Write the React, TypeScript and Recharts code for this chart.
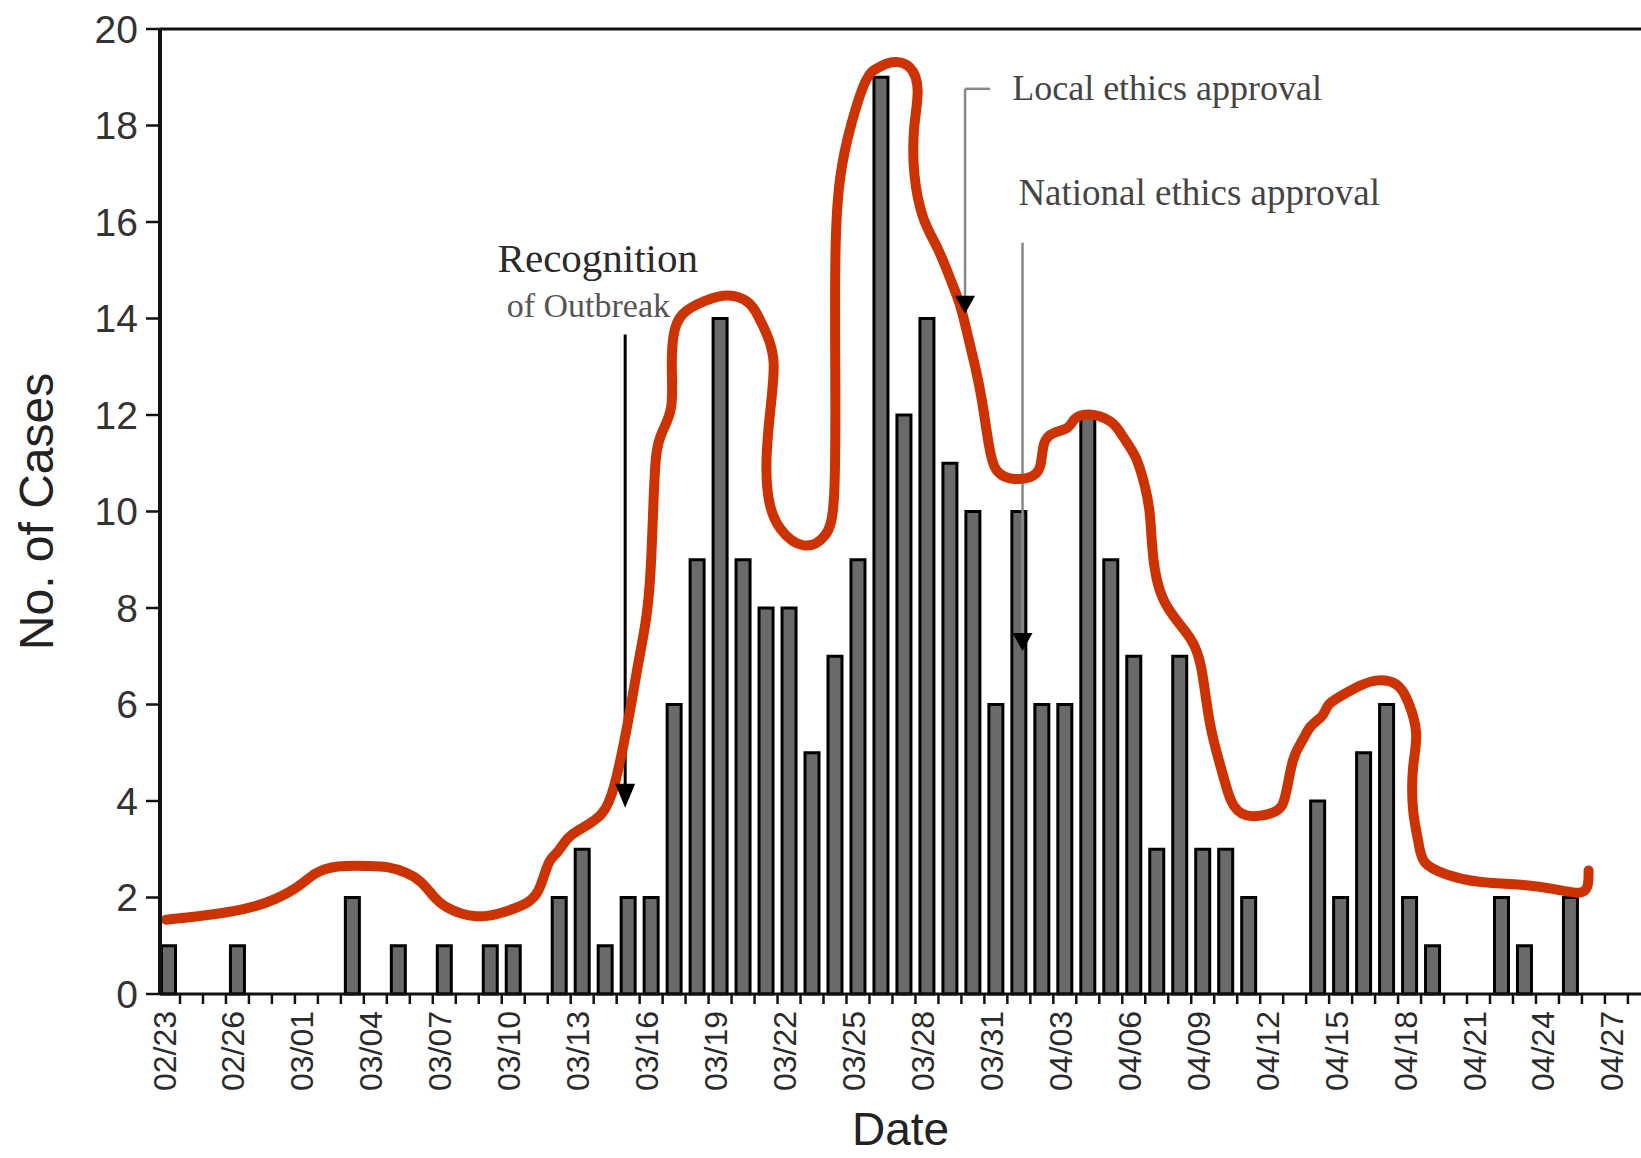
import React from 'react';
import { ComposedChart, Bar, Line, XAxis, YAxis, ReferenceLine, ReferenceDot } from 'recharts';

// daily new cases, one entry per day from 02/23 to 04/27
const caseCounts = [
  1, 0, 0, 1, 0, 0, 0, 0, 2, 0, 1, 0, 1, 0, 1, 1, 0, 2, 3, 1, 2, 2,
  6, 9, 14, 9, 8, 8, 5, 7, 9, 19, 12, 14, 11, 10, 6, 10, 6, 6, 12, 9,
  7, 3, 7, 3, 3, 2, 0, 0, 4, 2, 5, 6, 2, 1, 0, 0, 2, 1, 0, 2, 0, 0,
];

// a date label on every third day
const dateLabels = [
  '02/23', '02/26', '03/01', '03/04', '03/07', '03/10', '03/13', '03/16',
  '03/19', '03/22', '03/25', '03/28', '03/31', '04/03', '04/06', '04/09',
  '04/12', '04/15', '04/18', '04/21', '04/24', '04/27',
];
const labelStep = 3;

const yTicks = [0, 2, 4, 6, 8, 10, 12, 14, 16, 18, 20];

// hand-drawn trend curve (day index, cases)
const trendDays = [
  -0.11, 2.17, 3.71, 4.62, 5.72, 6.35, 7.26, 8.86, 9.45, 10.41, 11.0, 11.5,
  11.95, 13.41, 14.73, 15.69, 16.14, 16.55, 16.91, 17.37, 18.14, 18.92, 19.37,
  20.01, 20.46, 20.74, 20.97, 21.1, 21.19, 21.47, 21.97, 21.88, 21.92, 22.24,
  23.33, 24.38, 25.29, 25.61, 26.06, 26.43, 26.2, 25.97, 26.06, 26.52, 27.66,
  28.66, 29.02, 29.02, 28.98, 29.16, 29.7, 30.39, 30.84, 31.43, 32.34, 32.71,
  32.39, 32.39, 32.8, 33.48, 34.07, 34.48, 34.76, 35.12, 35.39, 35.71, 35.94,
  36.58, 37.62, 37.99, 38.03, 38.49, 39.22, 39.35, 39.95, 41.13, 41.49, 42.13,
  42.45, 42.72, 42.81, 43.18, 43.77, 44.5, 44.95, 45.27, 45.86, 46.18, 46.77,
  48.27, 48.59, 48.91, 49.37, 49.64, 50.28, 50.41, 50.87, 51.92, 52.6, 53.51,
  53.92, 54.42, 54.1, 54.1, 54.42, 54.51, 55.56, 56.92, 58.93, 60.43, 61.47,
  61.79, 61.79,
];
const trendCases = [
  1.54, 1.65, 1.8, 1.95, 2.23, 2.52, 2.67, 2.65, 2.65, 2.52, 2.34, 2.04,
  1.8, 1.54, 1.71, 1.89, 2.1, 2.82, 2.89, 3.28, 3.47, 3.71, 4.16,
  5.64, 6.94, 7.59, 8.46, 10.2, 11.28, 11.67, 12.1, 12.93, 13.67, 14.12,
  14.38, 14.53, 14.36, 14.1, 13.67, 13.15, 12.19, 11.08, 10.2, 9.61, 9.18,
  9.46, 9.98, 12.56, 15.49, 16.96, 18.07, 19.09, 19.18, 19.35, 19.28, 18.76,
  17.98, 16.96, 16.01, 15.49, 14.75, 14.27, 13.67, 12.97, 12.36, 11.28, 10.82,
  10.65, 10.69, 10.89, 11.48, 11.65, 11.71, 11.93, 12.06, 11.89, 11.56, 11.15,
  10.59, 10.09, 8.94, 8.2, 7.79, 7.38, 6.94, 5.53, 4.6, 3.97, 3.62,
  3.75, 3.97, 4.97, 5.25, 5.57, 5.75, 6.01, 6.14, 6.42, 6.53, 6.46,
  6.12, 5.4, 4.75, 3.75, 3.12, 2.69, 2.47, 2.3, 2.28, 2.17, 2.06,
  2.19, 2.56,
];

const barRows = caseCounts.map((cases, day) => ({ day, cases }));
const trendRows = trendDays.map((day, i) => ({ day, trend: trendCases[i] }));

// tick marks sit between days, labels on every third day
const boundaryTicks = caseCounts.map((_, i) => i + 0.5);
const labelTicks = dateLabels.map((_, i) => i * labelStep);
const xTicks = [...boundaryTicks, ...labelTicks].sort((a, b) => a - b);

const SANS = '"Liberation Sans", Arial, Helvetica, sans-serif';
const SERIF = '"Liberation Serif", "Times New Roman", serif';
const INK = '#111';
const BAR_W = 14;

const DateTick = (props: any) => {
  const { x, y, payload } = props;
  const v = payload.value as number;
  if (!Number.isInteger(v)) {
    return <line x1={x} x2={x} y1={y} y2={y + 10} stroke={INK} strokeWidth={2.5} />;
  }
  const tx = x - 4;
  const ty = y + 17;
  return (
    <text
      x={tx}
      y={ty}
      transform={`rotate(-90, ${tx}, ${ty})`}
      textAnchor="end"
      dominantBaseline="central"
      fontFamily={SANS}
      fontSize={32}
      fill="#2a2a2a"
    >
      {dateLabels[v / labelStep]}
    </text>
  );
};

// fixed-width bar centred on its day, whatever band size the numeric axis gives
const DayBar = (p: any) => {
  if (!p.height || p.height <= 0) return null;
  const cx = p.x + p.width / 2;
  return (
    <rect
      x={cx - BAR_W / 2}
      y={p.y}
      width={BAR_W}
      height={p.height}
      fill="#6a6a6a"
      stroke="#000"
      strokeWidth={3}
    />
  );
};

const arrowHead = (w: number, h: number) => (p: any) => (
  <polygon
    points={`${p.cx - w / 2},${p.cy - h} ${p.cx + w / 2},${p.cy - h} ${p.cx},${p.cy}`}
    fill="#000"
  />
);

const note = (text: string, size: number, fill: string, anchor: 'start' | 'middle') => (p: any) => (
  <text x={p.cx} y={p.cy} textAnchor={anchor} fontFamily={SERIF} fontSize={size} fill={fill}>
    {text}
  </text>
);

export default function App() {
  return (
    <div style={{ position: 'absolute', left: 0, top: 0, width: 1641, height: 1158, background: '#fff' }}>
      <ComposedChart width={1641} height={1158} data={barRows} margin={{ top: 29, right: 0, bottom: 0, left: 0 }}>
        <XAxis
          dataKey="day"
          type="number"
          domain={[-0.37, 64.07]}
          allowDataOverflow
          ticks={xTicks}
          interval={0}
          tick={<DateTick />}
          tickLine={false}
          tickSize={0}
          tickMargin={0}
          height={164}
          axisLine={{ stroke: INK, strokeWidth: 3 }}
          label={{
            content: ({ viewBox }: any) => (
              <text
                x={viewBox.x + viewBox.width / 2}
                y={viewBox.y + 151}
                textAnchor="middle"
                fontFamily={SANS}
                fontSize={46}
                fill="#222"
              >
                Date
              </text>
            ),
          }}
        />
        <YAxis
          type="number"
          domain={[0, 20]}
          ticks={yTicks}
          interval={0}
          width={160}
          tickSize={14}
          tickMargin={8}
          tick={{ fontFamily: SANS, fontSize: 39, fill: '#333' }}
          tickLine={{ stroke: INK, strokeWidth: 2.5 }}
          axisLine={{ stroke: INK, strokeWidth: 4 }}
          label={{
            content: ({ viewBox }: any) => {
              const cx = viewBox.x + 36;
              const cy = viewBox.y + viewBox.height / 2;
              return (
                <text
                  x={cx}
                  y={cy}
                  transform={`rotate(-90, ${cx}, ${cy})`}
                  textAnchor="middle"
                  dominantBaseline="central"
                  fontFamily={SANS}
                  fontSize={48}
                  fill="#222"
                >
                  No. of Cases
                </text>
              );
            },
          }}
        />
        <ReferenceLine y={20} stroke={INK} strokeWidth={3} />

        <Bar dataKey="cases" shape={DayBar} isAnimationActive={false} />

        {/* event markers */}
        <ReferenceLine segment={[{ x: 19.87, y: 13.67 }, { x: 19.87, y: 4.2 }]} stroke="#000" strokeWidth={3} />
        <ReferenceDot x={19.87} y={3.86} shape={arrowHead(20, 24)} />
        <ReferenceDot x={18.68} y={14.97} shape={note('Recognition', 41, '#2a2a2a', 'middle')} />
        <ReferenceDot x={18.27} y={14.03} shape={note('of Outbreak', 34, '#555', 'middle')} />

        <ReferenceLine segment={[{ x: 34.66, y: 18.76 }, { x: 35.75, y: 18.76 }]} stroke="#888" strokeWidth={2.5} />
        <ReferenceLine segment={[{ x: 34.66, y: 18.76 }, { x: 34.66, y: 14.4 }]} stroke="#888" strokeWidth={2.5} />
        <ReferenceDot x={34.66} y={14.1} shape={arrowHead(20, 18)} />
        <ReferenceDot x={36.71} y={18.53} shape={note('Local ethics approval', 36, '#444', 'start')} />

        <ReferenceLine segment={[{ x: 37.16, y: 15.57 }, { x: 37.16, y: 7.4 }]} stroke="#888" strokeWidth={2.5} />
        <ReferenceDot x={37.16} y={7.11} shape={arrowHead(20, 18)} />
        <ReferenceDot x={36.98} y={16.36} shape={note('National ethics approval', 37, '#444', 'start')} />

        <Line
          data={trendRows}
          dataKey="trend"
          type="basis"
          stroke="#cc3300"
          strokeWidth={10}
          strokeLinejoin="round"
          strokeLinecap="round"
          dot={false}
          activeDot={false}
          isAnimationActive={false}
        />
      </ComposedChart>
    </div>
  );
}
